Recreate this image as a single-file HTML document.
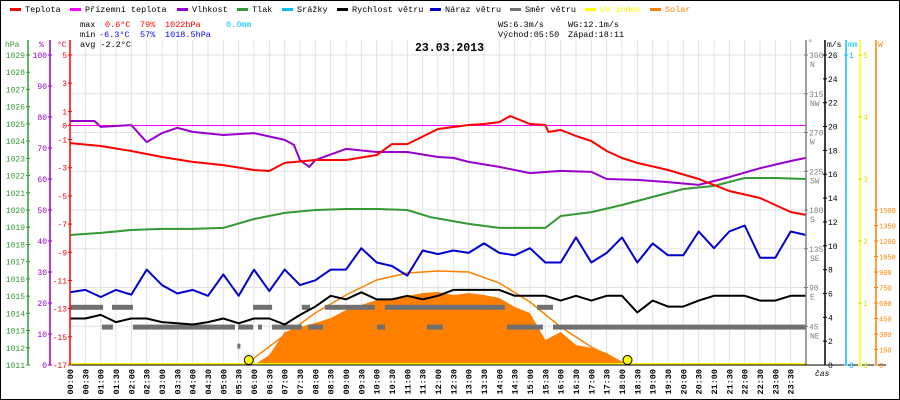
<!DOCTYPE html>
<html><head><meta charset="utf-8">
<style>
html,body{margin:0;padding:0;background:#fff;}
#wrap{position:relative;width:900px;height:400px;overflow:hidden;}
svg{display:block;font-family:"Liberation Mono",monospace;}
</style></head>
<body>
<div id="wrap">
<svg id="chart" width="900" height="400" viewBox="0 0 900 400">
  <rect x="0.5" y="0.5" width="899" height="399" fill="#fff" stroke="#000"/>
  <g id="grid"></g>
  <g id="marks"></g>
  <g id="axes"></g>
  <g id="legend" font-size="8.5"></g>
  <g font-size="8.5">
    <text x="80" y="27" fill="#000">max</text>
    <text x="105" y="27" fill="#f00">0.6°C</text>
    <text x="140" y="27" fill="#f00">79%</text>
    <text x="165" y="27" fill="#f00">1022hPa</text>
    <text x="226" y="27" fill="#00bfff">0.0mm</text>
    <text x="80" y="37" fill="#000">min</text>
    <text x="99" y="37" fill="#00f">-6.3°C</text>
    <text x="140" y="37" fill="#00f">57%</text>
    <text x="165" y="37" fill="#00f">1018.5hPa</text>
    <text x="80" y="47" fill="#000">avg -2.2°C</text>
    <text x="498" y="27" fill="#000">WS:6.3m/s</text>
    <text x="568" y="27" fill="#000">WG:12.1m/s</text>
    <text x="498" y="37" fill="#000">Východ:05:50</text>
    <text x="568" y="37" fill="#000">Západ:18:11</text>
  </g>
  <text x="415" y="51" font-size="11.5" font-weight="bold" fill="#000">23.03.2013</text>
</svg>
</div>
<script>
// ---- data ----
const tempTimes = [0,1,2,3,4,5,6,6.5,7,8,9,10,10.5,11,12,12.5,13,13.5,14,14.35,15,15.5,15.6,16,16.5,17,17.5,18,18.5,19.5,20.5,21.5,22.5,23.5,24];
const tempValues = [-1.25,-1.46,-1.81,-2.24,-2.59,-2.81,-3.16,-3.23,-2.66,-2.45,-2.45,-2.1,-1.32,-1.32,-0.25,-0.11,0.03,0.1,0.24,0.67,0.1,0.03,-0.46,-0.32,-0.75,-1.1,-1.81,-2.31,-2.66,-3.16,-3.8,-4.65,-5.15,-6.14,-6.35];
const groundTemp = 0;
const humTimes = [0,0.8,1,2,2.5,3,3.5,4,5,6,7,7.3,7.5,7.8,8,9,10,11,12,12.5,13,14,15,16,17,17.5,18.5,19.5,20.5,21.5,22.5,23.5,24];
const humValues = [78.7,78.7,76.8,77.4,71.9,74.8,76.5,75.2,74.2,74.8,72.6,71.0,66.1,63.9,66.1,69.7,68.7,68.7,67.1,66.8,65.5,63.9,61.9,62.6,62.3,60.0,59.7,59.0,58.1,60.6,63.5,65.8,66.8];
const pressTimes = [0,1,2,3,4,5,6,7,8,9,10,11,11.75,13,14,15.5,16,17,18,19,20,21,22,23,24];
const pressValues = [1018.55,1018.67,1018.84,1018.9,1018.9,1018.96,1019.48,1019.83,1020.0,1020.06,1020.06,1020.0,1019.59,1019.19,1018.96,1018.96,1019.65,1019.88,1020.29,1020.76,1021.22,1021.4,1021.86,1021.86,1021.8];
const gustValues = [6.1,6.3,5.7,6.3,5.9,8.0,6.7,6.0,6.3,5.8,7.6,5.8,8.0,6.2,8.0,6.7,7.1,8.0,8.0,9.8,8.6,8.3,7.5,9.6,9.3,9.6,9.4,10.2,9.4,9.2,9.8,8.6,8.6,10.7,8.6,9.4,10.7,8.6,10.2,9.2,9.2,11.2,9.8,11.2,11.7,9.0,9.0,11.2,10.9];
const speedValues = [3.9,3.9,4.2,3.6,3.9,3.9,3.6,3.5,3.4,3.6,3.9,3.5,3.9,3.9,3.4,4.2,4.9,5.8,5.5,6.1,5.5,5.5,5.8,5.5,5.8,6.3,6.3,6.3,6.3,5.8,5.8,5.8,5.4,5.8,5.4,5.8,5.8,4.4,5.4,4.9,4.9,5.4,5.8,5.8,5.8,5.4,5.4,5.8,5.8];
const dirStart = [0,1.37,5.97,7.56,8.31,10.27,15.23,1.04,2.05,5.48,6.13,6.59,7.76,10.01,11.64,14.25,15.75,5.46];
const dirEnd   = [1.08,2.05,6.59,7.83,9.94,14.18,15.75,1.40,5.38,5.97,6.26,7.56,8.25,10.27,12.16,15.42,24,5.52];
const dirDeg   = [67,67,67,67,67,67,67,44,44,44,44,44,44,44,44,44,44,22];
const solarValues = [0,0,0,0,0,0,0,0,0,0,0,0,0,97,319,368,406,455,532,581,629,648,668,697,706,677,697,677,648,561,503,242,319,194,165,116,29,0,0,0,0,0,0,0,0,0,0,0,0];
const clearSkyTimes = [5.83,6,7,8,9,10,11,12,13,14,15,16,17,18.18];
const clearSkyValues = [0,68,290,503,677,823,890,910,900,794,610,368,174,0];
const sunTimes = [5.83,18.18];
const hpaTicks = [1011,1012,1013,1014,1015,1016,1017,1018,1019,1020,1021,1022,1023,1024,1025,1026,1027,1028,1029];
const humTicks = [0,10,20,30,40,50,60,70,80,90,100];
const tempTicks = [5,3,1,0,-1,-3,-5,-7,-9,-11,-13,-15,-17];
const dirTicks = [45,90,135,180,225,270,315,360];
const dirNames = ["NE","E","SE","S","SW","W","NW","N"];
const msTicks = [0,2,4,6,8,10,12,14,16,18,20,22,24,26];
const uvTicks = [0,1,2,3,4,5];
const solTicks = [0,150,300,450,600,750,900,1050,1200,1350,1500];

// ---- scales ----
const X0=70, X1=806, YT=55, YB=365, H=YB-YT;
const xs = h => X0 + h*(X1-X0)/24;
const yTemp = t => YT + (5-t)*H/22;
const yHum = p => YB - p*H/100;
const yPress = p => YB - (p-1011)*H/18;
const yMs = v => YB - v*H/26;
const yDir = d => YB - d*H/360;
const yUv = u => YB - u*H/5;
const ySol = w => YB - w*H/3000;
const yMm = m => YB - m*H;

const NS="http://www.w3.org/2000/svg";
function mk(tag, parent, attrs){const e=document.createElementNS(NS,tag);for(const k in attrs)e.setAttribute(k,attrs[k]);parent.appendChild(e);return e;}
const grid=document.getElementById('grid'), marks=document.getElementById('marks'), axes=document.getElementById('axes'), legend=document.getElementById('legend');

// grid
for(let i=0;i<=48;i++){
  const x=xs(i/2);
  const l=mk('line',grid,{x1:x,x2:x,y1:40,y2:YB,stroke:'#e2e2e2','stroke-width':1});
  
  
}
for(let k=0;k<=8;k++){
  const y=YT+k*H/8;
  const l=mk('line',grid,{x1:X0,x2:X1,y1:y,y2:y,stroke:'#e2e2e2','stroke-width':1});
  
  
}

// solar area
{
  let d='M'+xs(0)+','+YB;
  solarValues.forEach((v,i)=>{d+=' L'+xs(i/2).toFixed(1)+','+ySol(v).toFixed(1);});
  d+=' L'+xs(24)+','+YB+' Z';
  const p=mk('path',marks,{d:d,fill:'#ff8000',stroke:'none'});
  
  
  const pts=clearSkyTimes.map((t,i)=>xs(t).toFixed(1)+','+ySol(clearSkyValues[i]).toFixed(1)).join(' ');
  const c=mk('polyline',marks,{points:pts,fill:'none',stroke:'#ff8000','stroke-width':1.5});
  
  
}
// wind direction
dirDeg.forEach((d,i)=>{
  const y=yDir(d);
  const r=mk('rect',marks,{x:xs(dirStart[i]).toFixed(1),y:(y-2.5).toFixed(1),width:Math.max(3,xs(dirEnd[i])-xs(dirStart[i])).toFixed(1),height:5,fill:'#707070'});
  
  
});
function line(times, vals, yf, color, w, name){
  const pts=times.map((t,i)=>xs(t).toFixed(1)+','+yf(vals[i]).toFixed(1)).join(' ');
  const p=mk('polyline',marks,{points:pts,fill:'none',stroke:color,'stroke-width':w,'stroke-linejoin':'round'});
  
  
}
const halfHours = gustValues.map((v,i)=>i/2);
line(halfHours, speedValues, yMs, '#000', 2, 'wind-speed-line');
line(halfHours, gustValues, yMs, '#0000cc', 2, 'wind-gust-line');
line(pressTimes, pressValues, yPress, '#339933', 2, 'pressure-line');
{
  const g=mk('line',marks,{x1:X0,x2:X1,y1:yTemp(groundTemp),y2:yTemp(groundTemp),stroke:'#ff00ff','stroke-width':1});
  
  
}
line(humTimes, humValues, yHum, '#9900cc', 2, 'humidity-line');
line(tempTimes, tempValues, yTemp, '#ff0000', 2, 'temperature-line');
{
  const u=mk('line',marks,{x1:X0,x2:X1,y1:YB-1,y2:YB-1,stroke:'#ffff00','stroke-width':2});
  
  
}
sunTimes.forEach((t,i)=>{
  const c=mk('circle',marks,{cx:xs(t),cy:YB-5,r:4.5,fill:'#ffff00',stroke:'#000','stroke-width':1});
  
  
});

// axes
function vaxis(x,color,name){
  const l=mk('line',axes,{x1:x,x2:x,y1:40,y2:YB,stroke:color,'stroke-width':1.5});
  
  
}
function tlabel(x,y,txt,color,anchor,name,size){
  const t=mk('text',axes,{x:x,y:y,fill:color,'font-size':size||8,'text-anchor':anchor});
  t.textContent=txt;
  
  
  return t;
}
function tick(x,y,color){
  const l=mk('line',axes,{x1:x-2,x2:x+2,y1:y,y2:y,stroke:color});
  
  
}
vaxis(28,'#339933','pressure-axis');
vaxis(50,'#9900cc','humidity-axis');
vaxis(70,'#ff0000','temperature-axis');
vaxis(806,'#808080','direction-axis');
vaxis(825,'#000','wind-speed-axis');
vaxis(846,'#00bfff','rain-axis');
vaxis(860,'#ffff00','uv-axis');
vaxis(876,'#ff8000','solar-axis');
const xaxis=mk('line',axes,{x1:X0,x2:X1+80,y1:YB,y2:YB,stroke:'#000'});



hpaTicks.forEach(v=>{tick(28,yPress(v),'#339933');tlabel(25,yPress(v)+3,String(v),'#339933','end','pressure-tick-label');});
humTicks.forEach(v=>{tick(50,yHum(v),'#9900cc');tlabel(47,yHum(v)+3,String(v),'#9900cc','end','humidity-tick-label');});
tempTicks.forEach(v=>{tick(70,yTemp(v),'#ff0000');tlabel(67,yTemp(v)+3,String(v),'#ff0000','end','temperature-tick-label');});
dirTicks.forEach((v,i)=>{tick(806,yDir(v),'#808080');tlabel(809,yDir(v)+3,String(v),'#808080','start','direction-tick-label');tlabel(810,yDir(v)+12,dirNames[i],'#808080','start','direction-name-label');});
msTicks.forEach(v=>{tick(825,yMs(v),'#000');tlabel(828,yMs(v)+3,String(v),'#000','start','wind-speed-tick-label');});
[0,1].forEach(v=>{tick(846,yMm(v),'#00bfff');tlabel(849,yMm(v)+3,String(v),'#00bfff','start','rain-tick-label');});
uvTicks.forEach(v=>{tick(860,yUv(v),'#dddd00');tlabel(863,yUv(v)+3,String(v),'#dddd00','start','uv-tick-label');});
solTicks.forEach(v=>{tick(876,ySol(v),'#ff8000');tlabel(879,ySol(v)+3,String(v),'#ff8000','start','solar-tick-label',7);});
tlabel(5,47,'hPa','#339933','start','pressure-axis-title');
tlabel(39,47,'%','#9900cc','start','humidity-axis-title');
tlabel(57,47,'°C','#ff0000','start','temperature-axis-title');
tlabel(808,45,'°','#808080','start','direction-axis-title');
tlabel(827,47,'m/s','#000','start','wind-speed-axis-title');
tlabel(848,47,'mm','#00bfff','start','rain-axis-title');
tlabel(878,47,'W','#ff8000','start','solar-axis-title');
tlabel(815,376,'čas','#000','start','x-axis-title').setAttribute('font-style','italic');

for(let i=0;i<48;i++){
  const h=Math.floor(i/2), m=i%2?'30':'00';
  const lbl=(h<10?'0':'')+h+':'+m;
  const x=xs(i/2)+3;
  const t=mk('text',axes,{x:0,y:0,fill:'#000','font-size':8.5,'font-weight':'bold','text-anchor':'end',transform:'translate('+x.toFixed(1)+',369) rotate(-90)'});
  t.textContent=lbl;
  
  
}

// legend
const legNames=['Teplota','Přízemní teplota','Vlhkost','Tlak','Srážky','Rychlost větru','Náraz větru','Směr větru','UV index','Solar'];
const legColors=['#ff0000','#ff00ff','#9900cc','#339933','#00bfff','#000','#0000cc','#707070','#ffff00','#ff8000'];
const legX=[10,70,177,237,282,337,430,510,585,650];
legNames.forEach((n,i)=>{
  const g=mk('g',legend,{});
  
  
  mk('rect',g,{x:legX[i],y:8,width:11,height:3,fill:legColors[i]});
  const t=mk('text',g,{x:legX[i]+15,y:12,fill:(i>=8?legColors[i]:'#000')});
  t.textContent=n;
});
</script>
</body></html>
